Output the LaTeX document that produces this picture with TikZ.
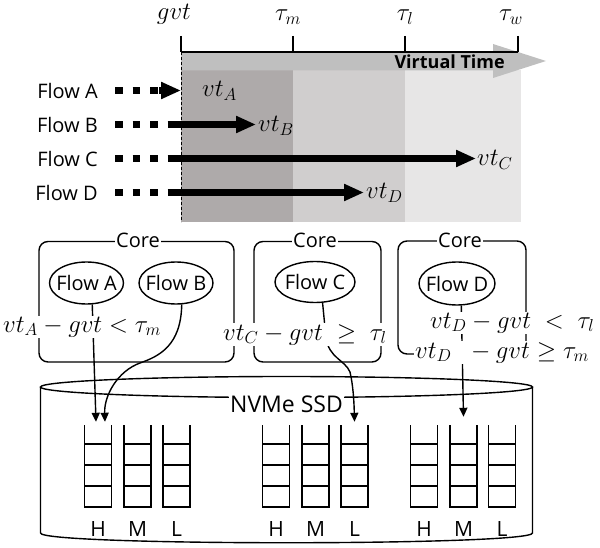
\documentclass[tikz,border=0pt]{standalone}
\usepackage{fontspec}
\setmainfont{Open Sans}
\usetikzlibrary{arrows.meta,shapes.geometric,calc}
\definecolor{gdark}{HTML}{AEAAAA}
\definecolor{gmid}{HTML}{D0CECE}
\definecolor{glight}{HTML}{E7E6E6}
\definecolor{gband}{HTML}{BFBFBF}
\begin{document}
\begin{tikzpicture}[x=1pt,y=-1pt,
  lbl/.style={font=\fontsize{20}{23}\selectfont, inner sep=0pt},
  mth/.style={font=\fontsize{24}{28}\selectfont, inner sep=0pt},
  mthw/.style={font=\fontsize{24}{28}\selectfont, inner sep=1pt, fill=white},
  bigarrow/.style={line width=7.5pt, -{Triangle[length=20pt,width=16pt]}},
  dotline/.style={line width=7.5pt, dash pattern=on 7.5pt off 10pt},
  corebox/.style={draw, line width=1.4pt, rounded corners=9pt, inner sep=0pt},
  corelbl/.style={fill=white, inner sep=1.5pt, font=\fontsize{20}{23}\selectfont},
  flowell/.style={draw, ellipse, line width=1.4pt, inner sep=0pt, font=\fontsize{20}{23}\selectfont},
  conn/.style={line width=1.4pt, -{Triangle[length=9pt,width=8pt]}},
  qline/.style={line width=1.8pt},
  qnode/.style={minimum width=27pt, minimum height=82pt, inner sep=0pt},
  hml/.style={font=\fontsize{21}{24}\selectfont, inner sep=0pt}
]
\useasboundingbox (0,0) rectangle (600,548);

% ---- timeline ----
\fill[gdark]  (181,70.5) rectangle (293,222);
\fill[gmid]   (293,70.5) rectangle (405,222);
\fill[glight] (405,70.5) rectangle (521,222);
\fill[gband] (181,52) -- (493,52) -- (493,44) -- (546,61) -- (493,78) -- (493,70.5) -- (181,70.5) -- cycle;
\node[font=\fontsize{18}{21}\selectfont\bfseries, inner sep=0pt, anchor=east] (vtime) at (505,61.5) {Virtual Time};
\draw[line width=1.5pt] (181,52) -- (518,52);
\foreach \x in {181,293,405,518} \draw[line width=1.5pt] (\x,36) -- (\x,52);
\draw[line width=0.9pt, dash pattern=on 3pt off 2pt] (181,52) -- (181,222);

\node[mth, anchor=base] (tg) at (174,20) {$gvt$};
\node[mth, anchor=base] (tm) at (288,21) {$\tau_m$};
\node[mth, anchor=base] (tl) at (405,21) {$\tau_l$};
\node[mth, anchor=base] (tw) at (511,21) {$\tau_w$};

\node[lbl, anchor=east] (lA) at (98,91) {Flow A};
\node[lbl, anchor=east] (lB) at (98,125) {Flow B};
\node[lbl, anchor=east] (lC) at (98,159) {Flow C};
\node[lbl, anchor=east] (lD) at (98,193) {Flow D};

\coordinate (sA) at (115,90.5);
\coordinate (sB) at (115,124.5);
\coordinate (sC) at (115,158.5);
\coordinate (sD) at (115,192.5);
\coordinate (eA) at (181,90.5);
\coordinate (eB) at (256,124.5);
\coordinate (eC) at (476,158.5);
\coordinate (eD) at (364,192.5);

\draw[dotline] (sA) -- (160,90.5);
\draw[bigarrow] (159,90.5) -- (eA);
\draw[dotline] (sB) -- (181,124.5);
\draw[bigarrow] (168,124.5) -- (eB);
\draw[dotline] (sC) -- (181,158.5);
\draw[bigarrow] (168,158.5) -- (eC);
\draw[dotline] (sD) -- (181,192.5);
\draw[bigarrow] (168,192.5) -- (eD);

\node[mth, anchor=base west] (vA) at (202,97) {$vt_A$};
\node[mth, anchor=base west] (vB) at (258,132) {$vt_B$};
\node[mth, anchor=base west] (vC) at (477,166) {$vt_C$};
\node[mth, anchor=base west] (vD) at (366,199) {$vt_D$};

% ---- cores ----
\node[corebox, minimum width=195pt, minimum height=120.5pt] (core1) at (136.5,301.75) {};
\node[corebox, minimum width=127pt, minimum height=120.5pt] (core2) at (317.5,301.75) {};
\node[corebox, minimum width=128pt, minimum height=113pt] (core3) at (462,297.5) {};
\node[corelbl] (c1l) at ($(core1.north)+(1.5,0)$) {Core};
\node[corelbl] (c2l) at ($(core2.north)+(-2.5,0)$) {Core};
\node[corelbl] (c3l) at ($(core3.north)+(-2,0)$) {Core};

\node[flowell, minimum width=74pt, minimum height=42pt] (fA) at (86.5,283) {\makebox[0pt]{Flow A}};
\node[flowell, minimum width=74pt, minimum height=42pt] (fB) at (176,283) {\makebox[0pt]{Flow B}};
\node[flowell, minimum width=80pt, minimum height=41pt] (fC) at (315,282) {\makebox[0pt]{Flow C}};
\node[flowell, minimum width=76pt, minimum height=43pt] (fD) at (457,283.5) {\makebox[0pt]{Flow D}};

% ---- SSD ----
\draw[line width=1.4pt] (40.5,387) -- (40.5,533) .. controls (40.5,546) and (532.5,546) .. (532.5,533) -- (532.5,387);
\draw[line width=1.4pt] (286.5,387) ellipse [x radius=246, y radius=10.5];
\node[fill=white, inner sep=1.5pt, font=\fontsize{23}{26}\selectfont] (ssd) at (286.5,404) {NVMe SSD};

\foreach \x/\nm/\lab in {98/q1h/H,137.5/q1m/M,176.5/q1l/L,276/q2h/H,315.5/q2m/M,354.5/q2l/L,424/q3h/H,463.5/q3m/M,502/q3l/L}{
  \node[qnode] (\nm) at (\x,466) {};
  \draw[qline] (\x-13.5,425) -- (\x-13.5,507) -- (\x+13.5,507) -- (\x+13.5,425);
  \foreach \yy in {444,465,486} \draw[qline] (\x-13.5,\yy) -- (\x+13.5,\yy);
  \node[hml] at (\x,529) {\lab};
}

% ---- connectors ----
\draw[conn] (fA.-75) -- ($(q1h.north)+(-2,-3)$);
\draw[conn] (fB.-75) .. controls (181,345) and (160,356) .. (140,363) .. controls (118,371) and (104,395) .. ($(q1h.north)+(7,-3)$);
\draw[conn] (fC.-70) -- (326,338) .. controls (329,358) and (345,360) .. (350,372) .. controls (353,385) and (354,400) .. ($(q2l.north)+(0,-3)$);
\draw[conn] (fD.-79) -- ($(q3m.north)+(0,-8)$);

% ---- conditions ----
\node[mthw, anchor=base west] (condA) at (2,332) {$vt_A - gvt < \tau_m$};
\node[mthw, anchor=base west] (condC) at (222,340) {$vt_C - gvt \;\geq\; \tau_l$};
\node[mthw, anchor=base west] (condD1) at (429,328) {$vt_D - gvt \;<\; \tau_l$};
\node[mthw, anchor=base west] (condD2) at (414,358) {$vt_D \;\; - gvt \geq \tau_m$};
\end{tikzpicture}
\end{document}
